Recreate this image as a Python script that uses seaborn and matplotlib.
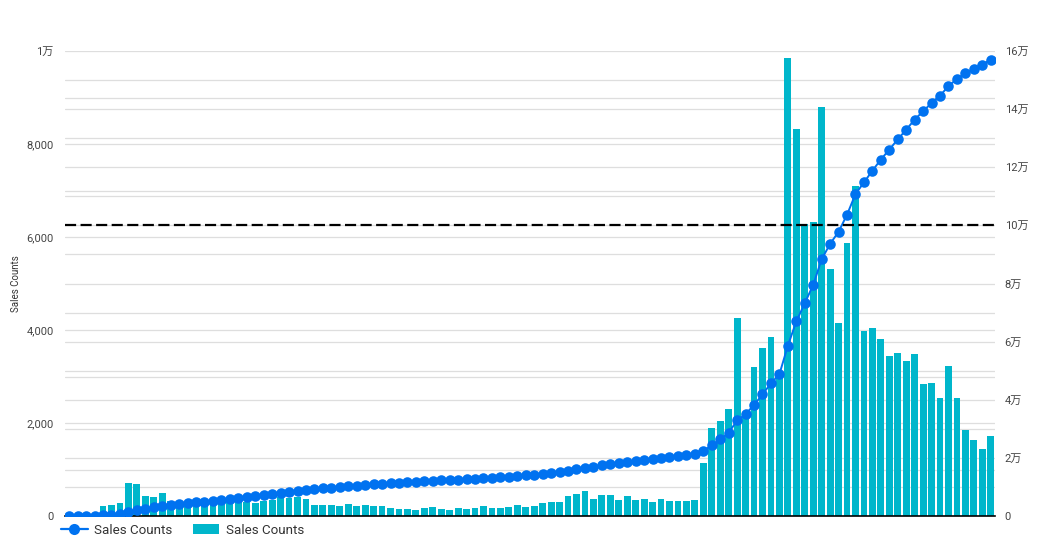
import numpy as np
import pandas as pd
import seaborn as sns
import matplotlib.pyplot as plt
from matplotlib.lines import Line2D
from matplotlib.patches import Patch
from matplotlib.ticker import FuncFormatter

# daily sales counts (left axis), 110 categories
sales = [0, 0, 0, 0, 215, 237, 272, 703, 681, 430, 409, 487,
         330, 300, 300, 290, 290, 280, 300,
         330, 330, 308, 272, 330, 344, 401, 394,
         403, 360, 245, 245, 245, 224,
         267, 209, 245, 224, 206, 166, 152, 152, 130, 170,
         188, 152, 130, 170, 152, 170, 209, 170, 170, 190,
         228, 188, 224, 281, 306, 306, 420, 478, 539, 374, 456,
         456, 338, 420, 338, 360, 302, 370, 324, 324, 324, 345,
         1147, 1886, 2036, 2294, 4252, 2130, 3198, 3607, 3843, 3100,
         9844, 8324, 6281, 6331, 8805, 5306, 4144, 5879, 7105, 3987,
         4051, 3814, 3442, 3513, 3334, 3485, 2846, 2868, 2538, 3227,
         2538, 1843, 1628, 1434, 1728]
items = list(range(len(sales)))
target = 100000  # dashed reference line on the right axis

left_max = 10000
right_max = 160000

bar_color = '#00b6cb'
line_color = '#0072f0'

dados = pd.DataFrame({'item': items, 'sales': sales})
# running total of sales, drawn on the right axis
dados['acumulado'] = dados['sales'].cumsum()

sns.set_style('white')
plt.rcParams['font.family'] = ['Roboto', 'Noto Sans CJK JP', 'DejaVu Sans']

fig = plt.figure(figsize=(10.39, 5.43), dpi=100)
ax = fig.add_axes([65 / 1039, 27 / 543, 930 / 1039, 465 / 543])
ax2 = ax.twinx()

sns.barplot(data=dados, x='item', y='sales', native_scale=True, color=bar_color,
            width=0.8, saturation=1, linewidth=0, ax=ax, zorder=2)
sns.lineplot(data=dados, x='item', y='acumulado', color=line_color, lw=1.4,
             marker='o', markersize=7.6, markeredgewidth=0, ax=ax2, zorder=3)
ax2.axhline(target, color='black', lw=1.6, ls=(0, (5, 2)), zorder=4)

ax.set_xlim(-0.5, len(sales) - 0.5)
ax.set_ylim(0, left_max)
ax2.set_ylim(0, right_max)

# gridlines for both scales, kept behind the bars
ax.set_axisbelow(True)
ax.set_yticks(np.arange(0, left_max + 1, 2000))
left_minor = list(np.arange(1000, left_max, 2000))
right_lines = [v * left_max / right_max for v in np.arange(10000, right_max + 1, 10000)]
ax.set_yticks(sorted(set(left_minor + right_lines)), minor=True)
ax.grid(True, which='both', axis='y', color='#dedede', lw=0.9)
ax.grid(False, axis='x')
ax2.grid(False)
ax2.set_yticks(np.arange(0, right_max + 1, 20000))


def fmt_left(v, pos):
    if v >= 10000:
        return f'{v / 10000:g}万'
    return f'{v:,.0f}'


def fmt_right(v, pos):
    if v == 0:
        return '0'
    return f'{v / 10000:g}万'


ax.yaxis.set_major_formatter(FuncFormatter(fmt_left))
ax2.yaxis.set_major_formatter(FuncFormatter(fmt_right))
ax.tick_params(axis='y', which='both', length=0, pad=8, labelsize=8, labelcolor='#444444')
ax2.tick_params(axis='y', length=0, pad=7, labelsize=8, labelcolor='#444444')
ax.tick_params(axis='x', length=0, labelbottom=False)
ax.set_xlabel('')
ax2.set_ylabel('')
ax.set_ylabel('Sales Counts', fontsize=7, color='#333333')
ax.yaxis.set_label_coords(-44 / 930, 0.5)

for a in (ax, ax2):
    for s in ('top', 'left', 'right', 'bottom'):
        a.spines[s].set_visible(False)
ax.spines['bottom'].set_visible(True)
ax.spines['bottom'].set_color('black')
ax.spines['bottom'].set_linewidth(1.2)

handles = [Line2D([0], [0], color=line_color, lw=1.6, marker='o', markersize=8,
                  markeredgewidth=0),
           Patch(facecolor=bar_color, edgecolor='none')]
fig.legend(handles, ['Sales Counts', 'Sales Counts'], loc='center left',
           bbox_to_anchor=(61 / 1039, 1 - 530 / 543), ncol=2, frameon=False,
           fontsize=9.6, handlelength=2.0, handletextpad=0.5, columnspacing=1.5,
           borderaxespad=0, borderpad=0, labelcolor='#333333')

fig.savefig('out.png', dpi=100)
